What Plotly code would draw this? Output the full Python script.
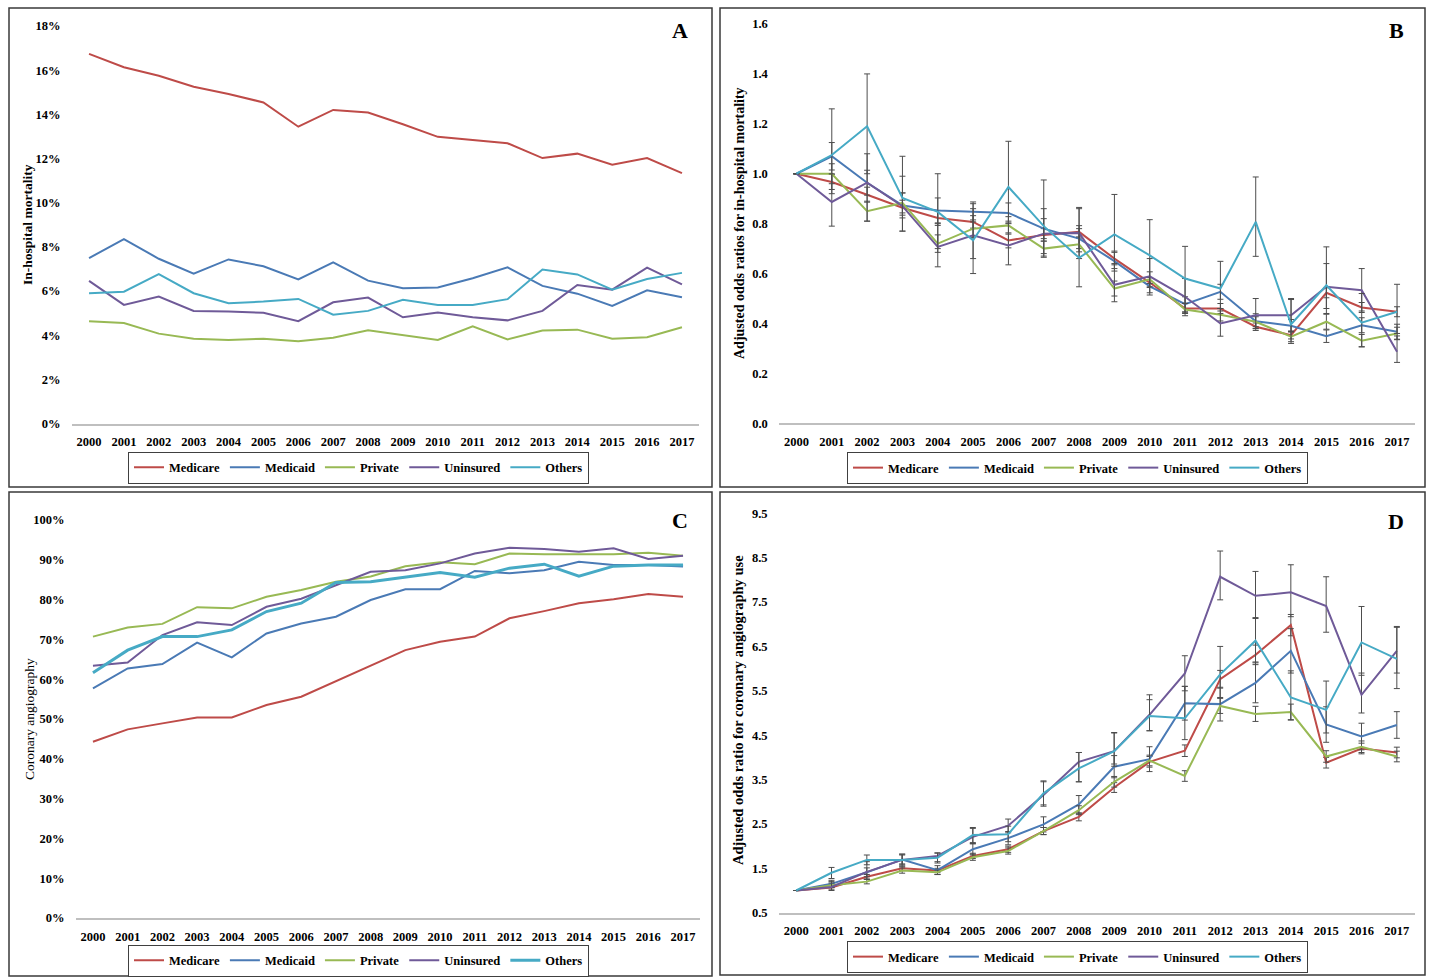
import numpy as np
import plotly.graph_objects as go

W, H = 1430, 978

years = list(range(2000, 2018))
series_names = ["Medicare", "Medicaid", "Private", "Uninsured", "Others"]
colors = ["#BE4B48", "#4A7AB5", "#98B954", "#6F5A98", "#46AAC5"]

# Panel A: in-hospital mortality (%)
mort_medicare = [16.74, 16.13, 15.75, 15.25, 14.92, 14.54, 13.44, 14.20, 14.08, 13.55, 12.98, 12.85, 12.69, 12.02, 12.22, 11.72, 12.02, 11.34]
mort_medicaid = [7.49, 8.35, 7.46, 6.78, 7.43, 7.12, 6.52, 7.30, 6.47, 6.13, 6.16, 6.58, 7.07, 6.23, 5.88, 5.32, 6.03, 5.72]
mort_private = [4.63, 4.55, 4.07, 3.84, 3.78, 3.84, 3.73, 3.88, 4.22, 3.99, 3.78, 4.40, 3.81, 4.21, 4.25, 3.84, 3.91, 4.36]
mort_uninsured = [6.46, 5.37, 5.75, 5.10, 5.07, 5.01, 4.63, 5.49, 5.70, 4.81, 5.03, 4.81, 4.67, 5.10, 6.27, 6.06, 7.06, 6.30]
mort_others = [5.90, 5.97, 6.76, 5.90, 5.45, 5.52, 5.64, 4.93, 5.10, 5.60, 5.37, 5.37, 5.63, 6.97, 6.75, 6.06, 6.54, 6.82]

# Panel B: adjusted odds ratios for in-hospital mortality
orm_medicare = [1.0, 0.967, 0.916, 0.864, 0.823, 0.807, 0.733, 0.755, 0.767, 0.66, 0.564, 0.46, 0.46, 0.387, 0.353, 0.523, 0.464, 0.447]
orm_medicaid = [1.0, 1.07, 0.964, 0.873, 0.853, 0.847, 0.843, 0.78, 0.74, 0.65, 0.549, 0.477, 0.527, 0.409, 0.391, 0.349, 0.393, 0.367]
orm_private = [1.0, 1.0, 0.85, 0.883, 0.72, 0.78, 0.793, 0.70, 0.717, 0.54, 0.577, 0.456, 0.435, 0.407, 0.347, 0.407, 0.331, 0.36]
orm_uninsured = [1.0, 0.887, 0.964, 0.87, 0.707, 0.753, 0.713, 0.76, 0.763, 0.555, 0.589, 0.507, 0.40, 0.433, 0.433, 0.547, 0.533, 0.287]
orm_others = [1.0, 1.075, 1.19, 0.903, 0.847, 0.733, 0.947, 0.79, 0.663, 0.757, 0.673, 0.58, 0.54, 0.807, 0.397, 0.553, 0.403, 0.447]
orm_err_medicare = [0, 0.03, 0.03, 0.03, 0.03, 0.025, 0.03, 0.025, 0.025, 0.025, 0.02, 0.02, 0.02, 0.015, 0.015, 0.02, 0.02, 0.02]
orm_err_medicaid = [0, 0.055, 0.05, 0.05, 0.05, 0.04, 0.04, 0.04, 0.04, 0.04, 0.035, 0.03, 0.03, 0.03, 0.025, 0.025, 0.03, 0.03]
orm_err_private = [0, 0.04, 0.04, 0.04, 0.035, 0.035, 0.035, 0.03, 0.03, 0.03, 0.03, 0.025, 0.025, 0.02, 0.02, 0.03, 0.025, 0.025]
orm_hi_uninsured = [1.0, 1.0, 1.08, 0.99, 0.80, 0.86, 0.81, 0.86, 0.86, 0.64, 0.66, 0.58, 0.46, 0.50, 0.50, 0.64, 0.62, 0.35]
orm_lo_uninsured = [1.0, 0.79, 0.81, 0.77, 0.627, 0.66, 0.635, 0.68, 0.66, 0.487, 0.523, 0.443, 0.349, 0.38, 0.37, 0.46, 0.45, 0.244]
orm_hi_others = [1.0, 1.26, 1.40, 1.07, 1.00, 0.88, 1.13, 0.975, 0.865, 0.917, 0.816, 0.709, 0.649, 0.987, 0.496, 0.707, 0.52, 0.557]
orm_lo_others = [1.0, 0.92, 1.0, 0.77, 0.70, 0.60, 0.80, 0.665, 0.547, 0.62, 0.56, 0.48, 0.45, 0.669, 0.32, 0.44, 0.307, 0.36]

# Panel C: coronary angiography (%)
ang_medicare = [44.3, 47.4, 48.9, 50.4, 50.4, 53.5, 55.6, 59.5, 63.6, 67.3, 69.4, 70.7, 75.3, 77.1, 79.1, 80.1, 81.4, 80.7]
ang_medicaid = [57.7, 62.7, 63.8, 69.2, 65.5, 71.5, 74.0, 75.7, 79.9, 82.6, 82.6, 87.2, 86.6, 87.4, 89.5, 88.7, 88.7, 88.3]
ang_private = [70.7, 73.0, 73.9, 78.1, 77.8, 80.7, 82.4, 84.5, 85.8, 88.4, 89.4, 88.9, 91.6, 91.4, 91.4, 91.4, 91.8, 91.0]
ang_uninsured = [63.4, 64.2, 71.1, 74.3, 73.6, 78.2, 80.2, 83.7, 87.0, 87.4, 89.1, 91.6, 93.0, 92.7, 92.0, 92.9, 90.2, 91.0]
ang_others = [61.6, 67.3, 70.7, 70.7, 72.4, 77.0, 79.1, 84.3, 84.5, 85.6, 86.8, 85.6, 87.9, 88.9, 85.9, 88.4, 88.7, 88.7]

# Panel D: adjusted odds ratio for coronary angiography use
ora_medicare = [1.0, 1.07, 1.31, 1.50, 1.45, 1.78, 1.93, 2.34, 2.66, 3.32, 3.90, 4.15, 5.76, 6.31, 6.98, 3.88, 4.20, 4.11]
ora_medicaid = [1.0, 1.15, 1.41, 1.70, 1.46, 1.93, 2.18, 2.49, 2.94, 3.79, 3.96, 5.22, 5.20, 5.68, 6.40, 4.74, 4.47, 4.73]
ora_private = [1.0, 1.12, 1.20, 1.45, 1.41, 1.75, 1.89, 2.34, 2.81, 3.45, 3.93, 3.58, 5.16, 4.98, 5.02, 4.02, 4.24, 4.02]
ora_uninsured = [1.0, 1.08, 1.42, 1.69, 1.78, 2.21, 2.46, 3.15, 3.90, 4.14, 4.96, 5.89, 8.07, 7.64, 7.72, 7.41, 5.41, 6.40]
ora_others = [1.0, 1.40, 1.69, 1.69, 1.74, 2.25, 2.27, 3.19, 3.75, 4.14, 4.93, 4.88, 5.87, 6.63, 5.35, 5.07, 6.59, 6.22]
ora_err_medicare = [0, 0.04, 0.05, 0.05, 0.05, 0.06, 0.07, 0.08, 0.09, 0.11, 0.12, 0.13, 0.2, 0.22, 0.24, 0.12, 0.12, 0.12]
ora_err_medicaid = [0, 0.08, 0.1, 0.1, 0.1, 0.13, 0.15, 0.17, 0.2, 0.25, 0.28, 0.38, 0.38, 0.45, 0.5, 0.4, 0.3, 0.3]
ora_err_private = [0, 0.05, 0.05, 0.06, 0.05, 0.07, 0.07, 0.08, 0.1, 0.12, 0.12, 0.12, 0.17, 0.17, 0.18, 0.13, 0.13, 0.12]
ora_hi_uninsured = [1.0, 1.2, 1.65, 1.82, 1.85, 2.42, 2.61, 3.45, 4.11, 4.56, 5.41, 6.29, 8.65, 8.19, 8.34, 8.07, 5.9, 6.93]
ora_lo_uninsured = [1.0, 1.0, 1.25, 1.55, 1.65, 2.05, 2.3, 2.9, 3.45, 3.85, 4.6, 5.5, 7.55, 7.13, 7.17, 6.82, 5.0, 5.9]
ora_hi_others = [1.0, 1.52, 1.80, 1.82, 1.84, 2.40, 2.45, 3.47, 4.11, 4.55, 5.30, 5.60, 6.50, 7.15, 5.95, 5.72, 7.40, 6.95]
ora_lo_others = [1.0, 1.27, 1.58, 1.58, 1.62, 2.08, 2.10, 2.93, 3.45, 3.80, 4.60, 4.40, 5.35, 6.15, 4.85, 4.55, 5.85, 5.55]

FONT = "Liberation Serif"
ERRCOL = "#4D4D4D"


def px_x(p):
    return p / W


def px_y(p):
    return 1 - p / H


fig = go.Figure()


def sym_err(e):
    return dict(type="data", array=e, symmetric=True, color=ERRCOL, thickness=1, width=3)


def asym_err(val, hi, lo):
    v = np.array(val)
    return dict(type="data", array=(np.array(hi) - v).tolist(),
                arrayminus=(v - np.array(lo)).tolist(), symmetric=False,
                color=ERRCOL, thickness=1, width=3)


panelA = [mort_medicare, mort_medicaid, mort_private, mort_uninsured, mort_others]
for name, col, vals in zip(series_names, colors, panelA):
    fig.add_trace(go.Scatter(x=years, y=vals, name=name, mode="lines",
                             line=dict(color=col, width=2), xaxis="x", yaxis="y",
                             legend="legend"))

panelB = [orm_medicare, orm_medicaid, orm_private, orm_uninsured, orm_others]
errB = [sym_err(orm_err_medicare), sym_err(orm_err_medicaid), sym_err(orm_err_private),
        asym_err(orm_uninsured, orm_hi_uninsured, orm_lo_uninsured),
        asym_err(orm_others, orm_hi_others, orm_lo_others)]
for name, col, vals, err in zip(series_names, colors, panelB, errB):
    fig.add_trace(go.Scatter(x=years, y=vals, name=name, mode="lines",
                             line=dict(color=col, width=2), error_y=err,
                             xaxis="x2", yaxis="y2", legend="legend2"))

panelC = [ang_medicare, ang_medicaid, ang_private, ang_uninsured, ang_others]
widthsC = [2, 2, 2, 2, 3]
for name, col, vals, lw in zip(series_names, colors, panelC, widthsC):
    fig.add_trace(go.Scatter(x=years, y=vals, name=name, mode="lines",
                             line=dict(color=col, width=lw), xaxis="x3", yaxis="y3",
                             legend="legend3"))

panelD = [ora_medicare, ora_medicaid, ora_private, ora_uninsured, ora_others]
errD = [sym_err(ora_err_medicare), sym_err(ora_err_medicaid), sym_err(ora_err_private),
        asym_err(ora_uninsured, ora_hi_uninsured, ora_lo_uninsured),
        asym_err(ora_others, ora_hi_others, ora_lo_others)]
for name, col, vals, err in zip(series_names, colors, panelD, errD):
    fig.add_trace(go.Scatter(x=years, y=vals, name=name, mode="lines",
                             line=dict(color=col, width=2), error_y=err,
                             xaxis="x4", yaxis="y4", legend="legend4"))

tickfont = dict(family=FONT, size=12.5, color="black", weight="bold")


def xaxis(dom, anchor):
    return dict(domain=dom, anchor=anchor, range=[1999.5, 2017.5], tickvals=years,
                ticktext=[str(y) for y in years], showline=True, linecolor="#BFBFBF",
                linewidth=1.5, ticks="", showgrid=False, zeroline=False,
                tickfont=tickfont, ticklabelstandoff=6, fixedrange=True,
                automargin=False)


def yaxis(dom, anchor, rng, dtick, fmt="", suffix="", tick0=0):
    return dict(domain=dom, anchor=anchor, range=rng, dtick=dtick, tick0=tick0,
                tickformat=fmt, ticksuffix=suffix, showline=False, showgrid=False,
                zeroline=False, ticks="", tickfont=tickfont, ticklabelstandoff=10,
                fixedrange=True, automargin=False)


legend_common = dict(orientation="h", bordercolor="#404040", borderwidth=1,
                     bgcolor="white", font=dict(family=FONT, size=12.5, color="black", weight="bold"),
                     xanchor="center", yanchor="middle", itemwidth=30, tracegroupgap=0)

fig.update_layout(
    width=W, height=H, margin=dict(l=0, r=0, t=0, b=0, pad=0, autoexpand=False),
    paper_bgcolor="white", plot_bgcolor="white",
    xaxis=xaxis([px_x(71.6), px_x(699.4)], "y"),
    yaxis=yaxis([px_y(423.5), px_y(26)], "x", [0, 18], 2, suffix="%"),
    xaxis2=xaxis([px_x(778.8), px_x(1414.7)], "y2"),
    yaxis2=yaxis([px_y(423.3), px_y(24)], "x2", [0, 1.6], 0.2, fmt=".1f"),
    xaxis3=xaxis([px_x(75.6), px_x(700.4)], "y3"),
    yaxis3=yaxis([px_y(918), px_y(520)], "x3", [0, 100], 10, suffix="%"),
    xaxis4=xaxis([px_x(778.5), px_x(1414.5)], "y4"),
    yaxis4=yaxis([px_y(912.7), px_y(513.3)], "x4", [0.5, 9.5], 1, fmt=".1f", tick0=0.5),
    legend=dict(legend_common, x=px_x(358.5), y=px_y(467.5)),
    legend2=dict(legend_common, x=px_x(1077.5), y=px_y(468)),
    legend3=dict(legend_common, x=px_x(358.5), y=px_y(960.5)),
    legend4=dict(legend_common, x=px_x(1077.5), y=px_y(957)),
    showlegend=True,
)

# panel borders
boxes = [(9, 8, 712, 487), (720, 8, 1425, 487), (9, 492, 712, 976), (720, 492, 1425, 975)]
for (x0, y0, x1, y1) in boxes:
    fig.add_shape(type="rect", xref="paper", yref="paper", x0=px_x(x0), x1=px_x(x1),
                  y0=px_y(y1), y1=px_y(y0), line=dict(color="#3A3A3A", width=1.5),
                  fillcolor="rgba(0,0,0,0)", layer="above")

ytitles = [("In-hospital mortality", 27, 225, 13.5, "bold"),
           ("Adjusted odds ratios for in-hospital mortality", 740, 223, 14, "bold"),
           ("Coronary angiography", 29, 719, 13.5, "normal"),
           ("Adjusted odds ratio for coronary angiography use", 738, 710, 14.5, "bold")]
for txt, x, y, sz, wt in ytitles:
    fig.add_annotation(text=txt, x=px_x(x), y=px_y(y), xref="paper", yref="paper",
                       showarrow=False, textangle=-90,
                       font=dict(family=FONT, size=sz, color="black", weight=wt),
                       xanchor="center", yanchor="middle")

letterfont = dict(family=FONT, size=22, color="black", weight="bold")
for txt, x, y in [("A", 680, 31), ("B", 1396, 31), ("C", 680, 520), ("D", 1396, 521)]:
    fig.add_annotation(text=txt, x=px_x(x), y=px_y(y), xref="paper", yref="paper",
                       showarrow=False, font=letterfont, xanchor="center", yanchor="middle")

fig.write_html(
    "out.html",
    config={"displayModeBar": False, "responsive": False},
    post_script="document.body.style.margin='0';document.body.style.padding='0';"
                "document.body.style.overflow='hidden';"
                "document.documentElement.style.overflow='hidden';",
)
